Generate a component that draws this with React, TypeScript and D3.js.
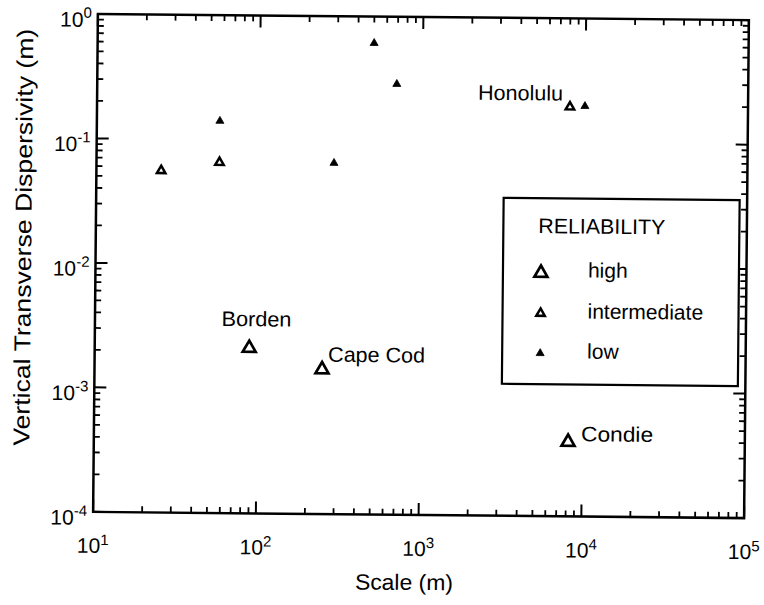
import React from 'react';
import * as d3 from 'd3';

// ---------- data ----------
const highScale = [89, 250, 8200];
const highDisp = [0.0022, 0.0015, 0.00041];
const highNames = ['Borden', 'Cape Cod', 'Condie'];

const intermediateScale = [25, 57, 8050];
const intermediateDisp = [0.057, 0.067, 0.199];
const intermediateNames = ['', '', 'Honolulu'];

const lowScale = [57, 288, 500, 693, 9950];
const lowDisp = [0.144, 0.0675, 0.624, 0.294, 0.202];

const xExponents = [1, 2, 3, 4, 5];
const yExponents = [0, -1, -2, -3, -4];
const legendLabels = ['high', 'intermediate', 'low'];
const legendTitle = 'RELIABILITY';
const xTitle = 'Scale (m)';
const yTitle = 'Vertical Transverse Dispersivity (m)';

// ---------- layout / style ----------
const W = 764;
const H = 605;
const F = { left: 95.5, right: 746.5, top: 17, bottom: 515 };
const FONT = '"Liberation Sans", Arial, Helvetica, sans-serif';
const TILT = 0.55;

const labelPlacement: Record<string, { dx: number; dy: number; anchor: string; len: number }> = {
  Borden: { dx: 7, dy: -20, anchor: 'middle', len: 70 },
  'Cape Cod': { dx: 6, dy: -6, anchor: 'start', len: 97 },
  Condie: { dx: 13, dy: 1, anchor: 'start', len: 72 },
  Honolulu: { dx: -7, dy: -5, anchor: 'end', len: 85 },
};

const x = d3.scaleLog().domain([10, 1e5]).range([F.left, F.right]);
const y = d3.scaleLog().domain([1e-4, 1]).range([F.bottom, F.top]);

type Kind = 'high' | 'intermediate' | 'low';
const markerStyle: Record<Kind, { side: number; fill: string; strokeWidth: number }> = {
  high: { side: 13, fill: 'none', strokeWidth: 2.7 },
  intermediate: { side: 8.5, fill: 'none', strokeWidth: 2.5 },
  low: { side: 8, fill: '#000', strokeWidth: 0.8 },
};

function Marker({ kind, cx, cy }: { kind: Kind; cx: number; cy: number }) {
  const st = markerStyle[kind];
  const area = (Math.sqrt(3) * st.side * st.side) / 4;
  const d = d3.symbol().type(d3.symbolTriangle).size(area)() as string;
  const yy = Math.sqrt(area / (3 * Math.sqrt(3)));
  return (
    <path
      d={d}
      transform={`translate(${cx},${cy + yy / 2})`}
      fill={st.fill}
      stroke="#000"
      strokeWidth={st.strokeWidth}
      strokeLinejoin="miter"
    />
  );
}

function minorValues(lo: number, hi: number) {
  const out: number[] = [];
  for (let e = lo; e < hi; e++) {
    for (let k = 2; k <= 9; k++) out.push(k * Math.pow(10, e));
  }
  return out;
}

export default function App() {
  const xMajor = xExponents.map((e) => Math.pow(10, e));
  const yMajor = yExponents.map((e) => Math.pow(10, e));
  const xMinor = minorValues(1, 5);
  const yMinor = minorValues(-4, 0);
  const MAJ = 12;
  const MIN = 6;

  const highPts = highScale.map((s, i) => ({ s, v: highDisp[i], name: highNames[i] }));
  const interPts = intermediateScale.map((s, i) => ({ s, v: intermediateDisp[i], name: intermediateNames[i] }));
  const lowPts = lowScale.map((s, i) => ({ s, v: lowDisp[i] }));

  const labelled = [...highPts, ...interPts].filter((p) => p.name);

  const legend = { x: 503, y: 197, w: 236, h: 186 };
  const legendRows = [270, 311, 351];
  const legendKinds: Kind[] = ['high', 'intermediate', 'low'];

  return (
    <svg
      width={W}
      height={H}
      viewBox={`0 0 ${W} ${H}`}
      style={{ position: 'absolute', left: 0, top: 0, background: '#fff' }}
      fontFamily={FONT}
    >
      <rect x={0} y={0} width={W} height={H} fill="#fff" />
      <g transform={`rotate(${TILT} 421 266)`}>
        {/* frame */}
        <rect
          x={F.left}
          y={F.top}
          width={F.right - F.left}
          height={F.bottom - F.top}
          fill="none"
          stroke="#000"
          strokeWidth={2.5}
        />
        {/* x ticks (bottom and top, inward) */}
        {xMajor.map((v) => (
          <g key={'xM' + v}>
            <line x1={x(v)} x2={x(v)} y1={F.bottom} y2={F.bottom - MAJ} stroke="#000" strokeWidth={2} />
            <line x1={x(v)} x2={x(v)} y1={F.top} y2={F.top + MAJ} stroke="#000" strokeWidth={2} />
          </g>
        ))}
        {xMinor.map((v) => (
          <g key={'xm' + v}>
            <line x1={x(v)} x2={x(v)} y1={F.bottom} y2={F.bottom - MIN} stroke="#000" strokeWidth={1.8} />
            <line x1={x(v)} x2={x(v)} y1={F.top} y2={F.top + MIN} stroke="#000" strokeWidth={1.8} />
          </g>
        ))}
        {/* y ticks (left and right, inward) */}
        {yMajor.map((v) => (
          <g key={'yM' + v}>
            <line x1={F.left} x2={F.left + MAJ} y1={y(v)} y2={y(v)} stroke="#000" strokeWidth={2} />
            <line x1={F.right} x2={F.right - MAJ} y1={y(v)} y2={y(v)} stroke="#000" strokeWidth={2} />
          </g>
        ))}
        {yMinor.map((v) => (
          <g key={'ym' + v}>
            <line x1={F.left} x2={F.left + MIN} y1={y(v)} y2={y(v)} stroke="#000" strokeWidth={1.8} />
            <line x1={F.right} x2={F.right - MIN} y1={y(v)} y2={y(v)} stroke="#000" strokeWidth={1.8} />
          </g>
        ))}
        {/* x tick labels */}
        {xExponents.map((e) => (
          <text key={'xl' + e} x={x(Math.pow(10, e))} y={F.bottom + 41} textAnchor="middle" fontSize={21} fill="#000">
            <tspan>10</tspan>
            <tspan dy={-8} fontSize={15}>
              {String(e)}
            </tspan>
          </text>
        ))}
        {/* y tick labels */}
        {yExponents.map((e) => (
          <text key={'yl' + e} x={F.left - 6} y={y(Math.pow(10, e)) + 13} textAnchor="end" fontSize={21} fill="#000">
            <tspan>10</tspan>
            <tspan dy={-9} fontSize={15}>
              {e === 0 ? '0' : '-' + String(-e)}
            </tspan>
          </text>
        ))}
        {/* axis titles */}
        <text x={407} y={590} textAnchor="middle" fontSize={22} textLength={98} lengthAdjust="spacingAndGlyphs" fill="#000">
          {xTitle}
        </text>
        <text
          transform="translate(31,241) rotate(-90)"
          textAnchor="middle"
          fontSize={23}
          textLength={417}
          lengthAdjust="spacingAndGlyphs"
          fill="#000"
        >
          {yTitle}
        </text>

        {/* points */}
        {lowPts.map((p, i) => (
          <Marker key={'lo' + i} kind="low" cx={x(p.s)} cy={y(p.v)} />
        ))}
        {interPts.map((p, i) => (
          <Marker key={'in' + i} kind="intermediate" cx={x(p.s)} cy={y(p.v)} />
        ))}
        {highPts.map((p, i) => (
          <Marker key={'hi' + i} kind="high" cx={x(p.s)} cy={y(p.v)} />
        ))}
        {/* site labels */}
        {labelled.map((p) => {
          const pl = labelPlacement[p.name];
          return (
            <text
              key={'lab' + p.name}
              x={x(p.s) + pl.dx}
              y={y(p.v) + pl.dy}
              textAnchor={pl.anchor as any}
              fontSize={21}
              textLength={pl.len}
              lengthAdjust="spacingAndGlyphs"
              fill="#000"
            >
              {p.name}
            </text>
          );
        })}

        {/* legend */}
        <rect x={legend.x} y={legend.y} width={legend.w} height={legend.h} fill="#fff" stroke="#000" strokeWidth={2.2} />
        <text x={538} y={232} fontSize={21} textLength={127} lengthAdjust="spacingAndGlyphs" fill="#000">
          {legendTitle}
        </text>
        {legendKinds.map((k, i) => (
          <g key={'lg' + k}>
            <Marker kind={k} cx={541} cy={legendRows[i]} />
            <text x={588} y={legendRows[i] + 6} fontSize={21} fill="#000">
              {legendLabels[i]}
            </text>
          </g>
        ))}
      </g>
    </svg>
  );
}
